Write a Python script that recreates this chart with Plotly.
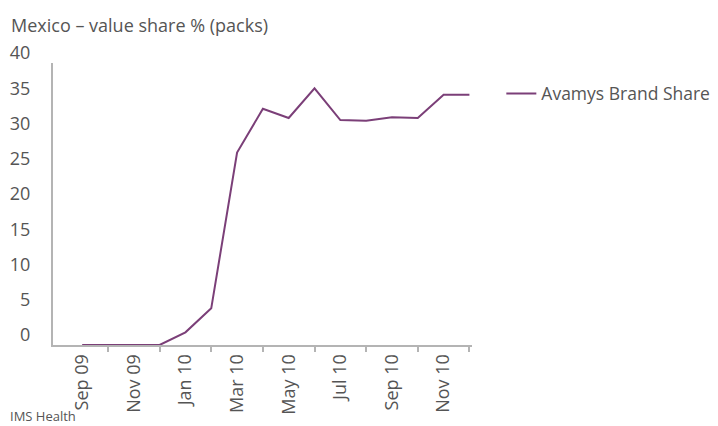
import plotly.graph_objects as go

# monthly share, Sep 09 - Dec 10
months = ["Sep 09", "Oct 09", "Nov 09", "Dec 09", "Jan 10", "Feb 10", "Mar 10", "Apr 10",
          "May 10", "Jun 10", "Jul 10", "Aug 10", "Sep 10", "Oct 10", "Nov 10", "Dec 10"]
avamys_share = [0, 0, 0, 0, 1.8, 5.2, 27.3, 33.5, 32.2, 36.4, 31.9, 31.8, 32.3, 32.2, 35.5, 35.5]
y_ticks = [0, 5, 10, 15, 20, 25, 30, 35, 40]

idx = list(range(len(months)))
label_idx = idx[0::2]
tick_idx = idx[1::2]

grey = "#555555"
axis_grey = "#b4b4b4"
purple = "#7b3f78"
font_family = "Open Sans"

# page body has an 8px margin, so the figure is sized to fit inside the window
W, H = 710, 418
L, T, PW, PH = 45, 55, 419, 282

fig = go.Figure()
fig.add_trace(go.Scatter(x=idx, y=avamys_share, mode="lines", name="Avamys Brand Share",
                         line=dict(color=purple, width=2)))

fig.update_layout(
    width=W, height=H,
    margin=dict(l=L, r=W - L - PW, t=T, b=H - T - PH, autoexpand=False),
    paper_bgcolor="white", plot_bgcolor="white",
    font=dict(family=font_family, size=18, color=grey),
    showlegend=True,
    legend=dict(x=1.07, y=0.955, xanchor="left", yanchor="top",
                font=dict(size=17.5, color=grey), bgcolor="rgba(0,0,0,0)"),
    xaxis=dict(range=[-1.13, 15.1], showgrid=False, zeroline=False, automargin=False,
               showline=True, linecolor=axis_grey, linewidth=2,
               tickmode="array", tickvals=label_idx, ticktext=[months[i] for i in label_idx],
               ticks="", tickangle=-90, tickfont=dict(size=18, color=grey),
               minor=dict(tickmode="array", tickvals=tick_idx, ticks="outside",
                          ticklen=5, tickcolor=axis_grey, tickwidth=2, showgrid=False)),
    yaxis=dict(range=[0, 40], showgrid=False, zeroline=False, automargin=False,
               showline=True, linecolor=axis_grey, linewidth=2,
               tickmode="array", tickvals=y_ticks, ticks="",
               ticklabelstandoff=17, ticklabelshift=-10,
               tickfont=dict(size=18, color=grey)),
)

fig.add_annotation(text="Mexico – value share % (packs)", xref="paper", yref="paper",
                   x=-L / PW, y=1 + (T - 17) / PH, xanchor="left", yanchor="middle", xshift=1,
                   showarrow=False, font=dict(size=18, color=grey))
fig.add_annotation(text="IMS Health", xref="paper", yref="paper",
                   x=-L / PW, y=-71 / PH, xanchor="left", yanchor="middle",
                   showarrow=False, font=dict(size=13, color=grey))

fig.write_html("out.html")
